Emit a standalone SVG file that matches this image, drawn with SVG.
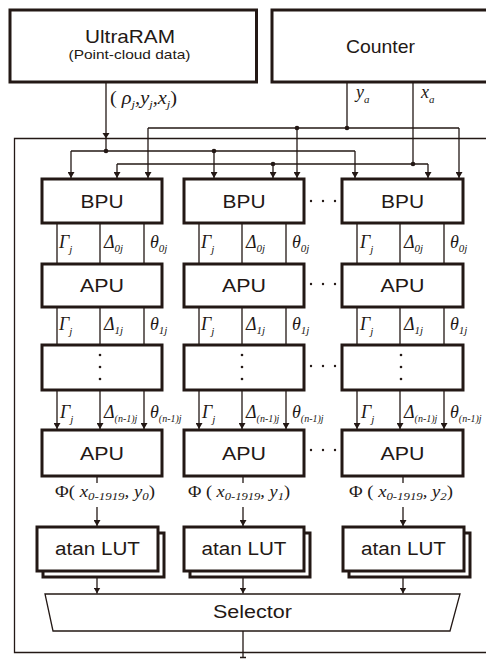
<svg xmlns="http://www.w3.org/2000/svg" width="486" height="659" viewBox="0 0 486 659">
<style>
.box{fill:#fff;stroke:#231815;stroke-width:3}
.ln{fill:none;stroke:#231815;stroke-width:1.3}
.arr{fill:none;stroke:#231815;stroke-width:1.3;marker-end:url(#ah)}
.dot{fill:#231815}
.sans{font-family:"Liberation Sans",Arial,sans-serif;fill:#231815;text-anchor:middle}
.it{font-family:"Liberation Serif","Times New Roman",serif;font-style:italic;font-size:18px;fill:#231815}
.phi{font-size:16px}
.rm{font-style:normal}
.sub{font-size:11px}
.sub9{font-size:10px}
</style>
<defs>
<marker id="ah" markerUnits="userSpaceOnUse" markerWidth="7" markerHeight="7" refX="6" refY="3.5" orient="auto">
<path d="M0,0 L6,3.5 L0,7 z" fill="#231815"/>
</marker>
</defs>
<rect width="486" height="659" fill="#fff"/>

<g id="frame">
<path class="ln" d="M486,138.5 H14.5 V652.5 H486"/>
</g>

<g id="ultraram">
<rect class="box" x="10" y="10" width="246.5" height="72"/>
<text class="sans" x="130" y="43" font-size="19" textLength="90" lengthAdjust="spacingAndGlyphs">UltraRAM</text>
<text class="sans" x="129.5" y="59" font-size="13" textLength="122" lengthAdjust="spacingAndGlyphs">(Point-cloud data)</text>
</g>

<g id="counter">
<rect class="box" x="272" y="10" width="230" height="72"/>
<text class="sans" x="380.5" y="53" font-size="19" textLength="69" lengthAdjust="spacingAndGlyphs">Counter</text>
</g>

<g id="connectors">
<path class="ln" d="M106,82 V151"/>
<path d="M102.5,133 L109.5,133 L106,138.5 z" fill="#231815"/>
<path class="ln" d="M71,151 H355"/>
<path class="arr" d="M71,151 V178"/>
<path class="arr" d="M214,151 V178"/>
<path class="arr" d="M355,151 V178"/>
<circle class="dot" cx="106" cy="151" r="2.3"/>
<circle class="dot" cx="214" cy="151" r="2.3"/>
<path class="ln" d="M347,82 V128"/>
<path class="ln" d="M148,128 H459"/>
<path class="arr" d="M148,128 V178"/>
<path class="arr" d="M297,128 V178"/>
<path class="arr" d="M459,128 V178"/>
<circle class="dot" cx="297" cy="128" r="2.3"/>
<circle class="dot" cx="347" cy="128" r="2.3"/>
<path class="ln" d="M413,82 V164"/>
<path class="ln" d="M117,164 H428"/>
<path class="arr" d="M117,164 V178"/>
<path class="arr" d="M273,164 V178"/>
<path class="arr" d="M428,164 V178"/>
<circle class="dot" cx="273" cy="164" r="2.3"/>
<circle class="dot" cx="413" cy="164" r="2.3"/>

<path class="ln" d="M57,223 V264 M100,223 V264 M144,223 V264"/>
<path class="ln" d="M199,223 V264 M242,223 V264 M286,223 V264"/>
<path class="ln" d="M357,223 V264 M400,223 V264 M444,223 V264"/>
<path class="ln" d="M57,307 V345 M100,307 V345 M144,307 V345"/>
<path class="ln" d="M199,307 V345 M242,307 V345 M286,307 V345"/>
<path class="ln" d="M357,307 V345 M400,307 V345 M444,307 V345"/>
<path class="arr" d="M57,390 V429"/><path class="arr" d="M100,390 V429"/><path class="arr" d="M144,390 V429"/>
<path class="arr" d="M199,390 V429"/><path class="arr" d="M242,390 V429"/><path class="arr" d="M286,390 V429"/>
<path class="arr" d="M357,390 V429"/><path class="arr" d="M400,390 V429"/><path class="arr" d="M444,390 V429"/>
<path class="ln" d="M97,476 V483"/><path class="arr" d="M97,507 V526"/>
<path class="ln" d="M243,476 V483"/><path class="arr" d="M243,507 V526"/>
<path class="ln" d="M403,476 V483"/><path class="arr" d="M403,507 V526"/>
<path class="arr" d="M97,578 V593.5"/>
<path class="arr" d="M243,578 V593.5"/>
<path class="arr" d="M403,578 V593.5"/>
<path class="ln" d="M243,631 V658 M240,657.5 H246"/>
</g>

<g id="labels">
<text class="it" x="110" y="104" textLength="67" lengthAdjust="spacingAndGlyphs"><tspan class="rm">( </tspan>ρ<tspan class="sub" dy="4">j</tspan><tspan dy="-4">,</tspan>y<tspan class="sub" dy="4">j</tspan><tspan dy="-4">,</tspan>x<tspan class="sub" dy="4">j</tspan><tspan class="rm" dy="-4">)</tspan></text>
<text class="it" x="356" y="98">y<tspan class="sub" dy="5">a</tspan></text>
<text class="it" x="421" y="98">x<tspan class="sub" dy="5">a</tspan></text>

<text class="it" x="59" y="248">Γ<tspan class="sub" dy="5">j</tspan></text>
<text class="it" x="104" y="248">Δ<tspan class="sub" dy="4">0j</tspan></text>
<text class="it" x="150" y="248">θ<tspan class="sub" dy="4">0j</tspan></text>
<text class="it" x="201" y="248">Γ<tspan class="sub" dy="5">j</tspan></text>
<text class="it" x="246" y="248">Δ<tspan class="sub" dy="4">0j</tspan></text>
<text class="it" x="292" y="248">θ<tspan class="sub" dy="4">0j</tspan></text>
<text class="it" x="360" y="248">Γ<tspan class="sub" dy="5">j</tspan></text>
<text class="it" x="404" y="248">Δ<tspan class="sub" dy="4">0j</tspan></text>
<text class="it" x="450" y="248">θ<tspan class="sub" dy="4">0j</tspan></text>

<text class="it" x="59" y="330">Γ<tspan class="sub" dy="5">j</tspan></text>
<text class="it" x="104" y="330">Δ<tspan class="sub" dy="4">1j</tspan></text>
<text class="it" x="150" y="330">θ<tspan class="sub" dy="4">1j</tspan></text>
<text class="it" x="201" y="330">Γ<tspan class="sub" dy="5">j</tspan></text>
<text class="it" x="246" y="330">Δ<tspan class="sub" dy="4">1j</tspan></text>
<text class="it" x="292" y="330">θ<tspan class="sub" dy="4">1j</tspan></text>
<text class="it" x="360" y="330">Γ<tspan class="sub" dy="5">j</tspan></text>
<text class="it" x="404" y="330">Δ<tspan class="sub" dy="4">1j</tspan></text>
<text class="it" x="450" y="330">θ<tspan class="sub" dy="4">1j</tspan></text>

<text class="it" x="60" y="418">Γ<tspan class="sub" dy="5">j</tspan></text>
<text class="it" x="104" y="418">Δ<tspan class="sub9" dy="4">(n-1)j</tspan></text>
<text class="it" x="150" y="418">θ<tspan class="sub9" dy="4">(n-1)j</tspan></text>
<text class="it" x="202" y="418">Γ<tspan class="sub" dy="5">j</tspan></text>
<text class="it" x="246" y="418">Δ<tspan class="sub9" dy="4">(n-1)j</tspan></text>
<text class="it" x="292" y="418">θ<tspan class="sub9" dy="4">(n-1)j</tspan></text>
<text class="it" x="361" y="418">Γ<tspan class="sub" dy="5">j</tspan></text>
<text class="it" x="404" y="418">Δ<tspan class="sub9" dy="4">(n-1)j</tspan></text>
<text class="it" x="450" y="418">θ<tspan class="sub9" dy="4">(n-1)j</tspan></text>

<text class="it phi" x="55" y="497" textLength="100" lengthAdjust="spacingAndGlyphs"><tspan class="rm">Φ( </tspan>x<tspan class="sub" dy="3">0-1919</tspan><tspan dy="-3">, </tspan>y<tspan class="sub" dy="3">0</tspan><tspan class="rm" dy="-3">)</tspan></text>
<text class="it phi" x="188" y="497" textLength="102" lengthAdjust="spacingAndGlyphs"><tspan class="rm">Φ ( </tspan>x<tspan class="sub" dy="3">0-1919</tspan><tspan dy="-3">, </tspan>y<tspan class="sub" dy="3">1</tspan><tspan class="rm" dy="-3">)</tspan></text>
<text class="it phi" x="349" y="497" textLength="104" lengthAdjust="spacingAndGlyphs"><tspan class="rm">Φ ( </tspan>x<tspan class="sub" dy="3">0-1919</tspan><tspan dy="-3">, </tspan>y<tspan class="sub" dy="3">2</tspan><tspan class="rm" dy="-3">)</tspan></text>
</g>

<g id="bpu-1"><rect class="box" x="42" y="179" width="120" height="44"/><text class="sans" x="102" y="208" font-size="18" textLength="43" lengthAdjust="spacingAndGlyphs">BPU</text></g>
<g id="bpu-2"><rect class="box" x="184" y="179" width="120" height="44"/><text class="sans" x="244" y="208" font-size="18" textLength="43" lengthAdjust="spacingAndGlyphs">BPU</text></g>
<g id="bpu-3"><rect class="box" x="342" y="179" width="121" height="44"/><text class="sans" x="402.5" y="208" font-size="18" textLength="43" lengthAdjust="spacingAndGlyphs">BPU</text></g>

<g id="apu1-1"><rect class="box" x="42" y="264" width="120" height="43"/><text class="sans" x="102" y="292" font-size="18" textLength="44" lengthAdjust="spacingAndGlyphs">APU</text></g>
<g id="apu1-2"><rect class="box" x="184" y="264" width="120" height="43"/><text class="sans" x="244" y="292" font-size="18" textLength="44" lengthAdjust="spacingAndGlyphs">APU</text></g>
<g id="apu1-3"><rect class="box" x="342" y="264" width="121" height="43"/><text class="sans" x="402.5" y="292" font-size="18" textLength="44" lengthAdjust="spacingAndGlyphs">APU</text></g>

<g id="mid-1"><rect class="box" x="42" y="345" width="120" height="45"/><circle class="dot" cx="100" cy="355" r="1.3"/><circle class="dot" cx="100" cy="367" r="1.3"/><circle class="dot" cx="100" cy="379" r="1.3"/></g>
<g id="mid-2"><rect class="box" x="184" y="345" width="120" height="45"/><circle class="dot" cx="242" cy="355" r="1.3"/><circle class="dot" cx="242" cy="367" r="1.3"/><circle class="dot" cx="242" cy="379" r="1.3"/></g>
<g id="mid-3"><rect class="box" x="342" y="345" width="121" height="45"/><circle class="dot" cx="401" cy="355" r="1.3"/><circle class="dot" cx="401" cy="367" r="1.3"/><circle class="dot" cx="401" cy="379" r="1.3"/></g>

<g id="apu2-1"><rect class="box" x="42" y="430" width="120" height="46"/><text class="sans" x="102" y="460" font-size="18" textLength="44" lengthAdjust="spacingAndGlyphs">APU</text></g>
<g id="apu2-2"><rect class="box" x="184" y="430" width="120" height="46"/><text class="sans" x="244" y="460" font-size="18" textLength="44" lengthAdjust="spacingAndGlyphs">APU</text></g>
<g id="apu2-3"><rect class="box" x="342" y="430" width="121" height="46"/><text class="sans" x="402.5" y="460" font-size="18" textLength="44" lengthAdjust="spacingAndGlyphs">APU</text></g>

<g id="ellipses">
<circle class="dot" cx="311" cy="201" r="1.2"/><circle class="dot" cx="323" cy="201" r="1.2"/><circle class="dot" cx="335" cy="201" r="1.2"/>
<circle class="dot" cx="311" cy="284" r="1.2"/><circle class="dot" cx="323" cy="284" r="1.2"/><circle class="dot" cx="335" cy="284" r="1.2"/>
<circle class="dot" cx="311" cy="366" r="1.2"/><circle class="dot" cx="323" cy="366" r="1.2"/><circle class="dot" cx="335" cy="366" r="1.2"/>
<circle class="dot" cx="311" cy="450" r="1.2"/><circle class="dot" cx="323" cy="450" r="1.2"/><circle class="dot" cx="335" cy="450" r="1.2"/>
</g>

<g id="lut-1"><rect class="box" x="43" y="533" width="121" height="44" stroke-width="2.5"/><rect class="box" x="37" y="527" width="121" height="44"/><text class="sans" x="97.5" y="555" font-size="18" textLength="85" lengthAdjust="spacingAndGlyphs">atan LUT</text></g>
<g id="lut-2"><rect class="box" x="190" y="533" width="120" height="44" stroke-width="2.5"/><rect class="box" x="184" y="527" width="120" height="44"/><text class="sans" x="244" y="555" font-size="18" textLength="85" lengthAdjust="spacingAndGlyphs">atan LUT</text></g>
<g id="lut-3"><rect class="box" x="349" y="533" width="121" height="44" stroke-width="2.5"/><rect class="box" x="343" y="527" width="121" height="44"/><text class="sans" x="403.5" y="555" font-size="18" textLength="85" lengthAdjust="spacingAndGlyphs">atan LUT</text></g>

<g id="selector">
<path d="M45,594 H460 L450,631 H53 z" fill="#fff" stroke="#231815" stroke-width="1.3"/>
<text class="sans" x="252.5" y="618" font-size="18" textLength="79" lengthAdjust="spacingAndGlyphs">Selector</text>
</g>
</svg>
